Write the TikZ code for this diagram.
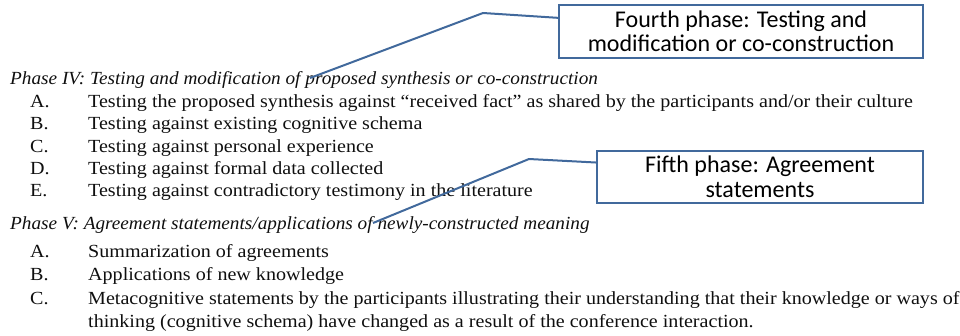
\documentclass[tikz,border=0pt]{standalone}
\usepackage{fontspec}
\usetikzlibrary{calc}
\setmainfont{Liberation Serif}[FakeStretch=1.085,
  ItalicFeatures={FakeStretch=1.04}]
\newfontfamily\notefont{Carlito}
\definecolor{calloutblue}{RGB}{65,105,156}
\definecolor{ink}{RGB}{15,15,15}
\begin{document}
\begin{tikzpicture}[x=1pt,y=-1pt,
  body/.style={anchor=base west, inner sep=0pt, text=ink, font=\fontsize{18.5}{22}\selectfont},
  phase/.style={body, font=\fontsize{18.5}{22}\selectfont\itshape},
  notebox/.style={draw=calloutblue, line width=1.6pt, fill=white, inner sep=0pt,
    align=center, text=black, font=\notefont\fontsize{24}{24.5}\selectfont},
  callout/.style={draw=calloutblue, line width=2pt, line join=round}]
\useasboundingbox (0,0) rectangle (960,335);

% Phase IV
\node[phase] (p4) at (10,84) {Phase IV: Testing and modification of proposed synthesis or co-construction};
\node[body] (p4a) at (30,107) {A.};
\node[body] (p4at) at (88,107) {Testing the proposed synthesis against ``received fact'' as shared by the participants and/or their culture};
\node[body] (p4b) at (30,129.5) {B.};
\node[body] (p4bt) at (88,129.5) {Testing against existing cognitive schema};
\node[body] (p4c) at (30,152) {C.};
\node[body] (p4ct) at (88,152) {Testing against personal experience};
\node[body] (p4d) at (30,174) {D.};
\node[body] (p4dt) at (88,174) {Testing against formal data collected};
\node[body] (p4e) at (30,196) {E.};
\node[body] (p4et) at (88,196) {Testing against contradictory testimony in the literature};

% Phase V
\node[phase] (p5) at (10,229) {Phase V: Agreement statements/applications of newly-constructed meaning};
\node[body] (p5a) at (30,257) {A.};
\node[body] (p5at) at (88,257) {Summarization of agreements};
\node[body] (p5b) at (30,280) {B.};
\node[body] (p5bt) at (88,280) {Applications of new knowledge};
\node[body] (p5c) at (30,304) {C.};
\node[body] (p5ct) at (88,304) {Metacognitive statements by the participants illustrating their understanding that their knowledge or ways of};
\node[body] (p5ct2) at (88,327) {thinking (cognitive schema) have changed as a result of the conference interaction.};

% Annotation boxes
\node[notebox, minimum width=364pt, minimum height=53pt] (note4) at (741,31.5)
  {Fourth phase: Testing and\\modification or co-construction};
\node[notebox, minimum width=326pt, minimum height=52pt] (note5) at (760,177)
  {Fifth phase: Agreement\\statements};

% Callout leaders
\coordinate (tip4) at (310,78);
\coordinate (bend4) at (483,13);
\coordinate (tip5) at (373,223);
\coordinate (bend5) at (529,159);
\draw[callout] (tip4) -- (bend4) -- ($(note4.north west)!0.25!(note4.south west)$);
\draw[callout] (tip5) -- (bend5) -- ($(note5.north west)!0.23!(note5.south west)$);
\end{tikzpicture}
\end{document}
